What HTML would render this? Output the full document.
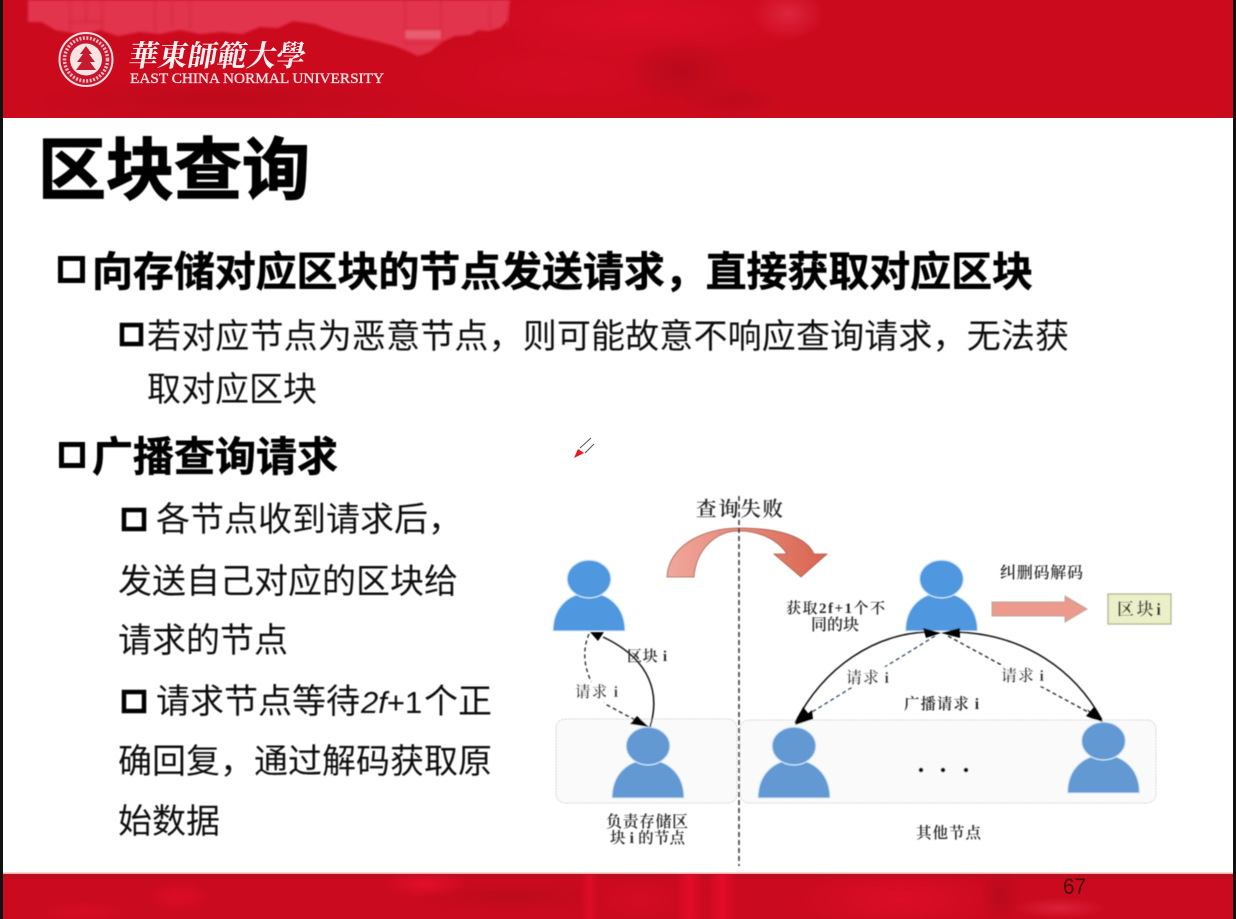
<!DOCTYPE html>
<html lang="zh"><head><meta charset="utf-8"><title>区块查询</title>
<style>html,body{margin:0;padding:0;background:#fff}svg{display:block}
.s{font-family:"Liberation Sans","Noto Sans CJK SC",sans-serif;fill:#111}
.b{font-weight:700;fill:#000;stroke:#000;stroke-width:.5}
.d{font-family:"Liberation Serif","Noto Serif CJK SC",serif;fill:#2a2a2a;font-weight:600}
</style></head><body>
<svg width="1236" height="919" viewBox="0 0 1236 919" xmlns="http://www.w3.org/2000/svg">
<defs>
<filter id="bl2" x="-20%" y="-20%" width="140%" height="140%"><feGaussianBlur stdDeviation="1.2"/></filter>
<filter id="soft" x="-5%" y="-5%" width="110%" height="110%"><feGaussianBlur stdDeviation=".45"/></filter>
<radialGradient id="dk"><stop offset="0" stop-color="#b40a1b"/><stop offset="1" stop-color="#b40a1b" stop-opacity="0"/></radialGradient>
<radialGradient id="br"><stop offset="0" stop-color="#e20e2b"/><stop offset="1" stop-color="#e20e2b" stop-opacity="0"/></radialGradient>
<radialGradient id="pk"><stop offset="0" stop-color="#e2304a"/><stop offset="1" stop-color="#e2304a" stop-opacity="0"/></radialGradient>
<linearGradient id="ca" x1="0" x2="1"><stop offset="0" stop-color="#f0a89c"/><stop offset="1" stop-color="#d9644f"/></linearGradient>
<linearGradient id="vs" x1="0" x2="1"><stop offset="0" stop-color="#e20c28" stop-opacity="0"/><stop offset=".5" stop-color="#e20c28"/><stop offset="1" stop-color="#e20c28" stop-opacity="0"/></linearGradient>
<clipPath id="hc"><rect x="0" y="0" width="1236" height="118"/></clipPath>
<clipPath id="fc"><rect x="0" y="874" width="1236" height="45"/></clipPath>
<g id="p"><path d="M-36 52C-36 28-20 14 0 14C20 14 36 28 36 52Z" stroke="#cfe6fa" stroke-width="1"/><ellipse cx="0" cy="0" rx="22" ry="19" stroke="#d5e9fb" stroke-width="1.2"/></g>
</defs>
<rect width="1236" height="919" fill="#fff"/>
<!-- header -->
<g clip-path="url(#hc)">
<rect width="1236" height="118" fill="#cc0a1e"/>
<ellipse cx="640" cy="18" rx="190" ry="42" fill="url(#br)" opacity=".7"/>
<ellipse cx="560" cy="75" rx="150" ry="42" fill="url(#br)" opacity=".35"/>
<ellipse cx="680" cy="72" rx="55" ry="34" fill="url(#dk)" opacity=".8"/>
<ellipse cx="732" cy="100" rx="50" ry="18" fill="url(#dk)" opacity=".6"/>
<ellipse cx="788" cy="14" rx="36" ry="26" fill="url(#pk)" opacity=".7"/>
<ellipse cx="220" cy="100" rx="220" ry="24" fill="url(#dk)" opacity=".6"/>
<path d="M28 0H510L508 20 500 28 488 31 478 30 470 35 455 36 442 42 430 52 418 56 405 50 395 46 380 42 362 38 345 34 332 30 315 24 293 21 278 28 260 27 242 34 222 32 200 34 180 30 160 34 140 32 118 36 100 30 84 34 66 32 55 30 42 22 28 22Z" fill="#e2364d" filter="url(#bl2)"/>
<g fill="none" stroke="#cd2138" stroke-width="1.5" opacity=".7" filter="url(#bl2)">
<path d="M70 0V31M102 0V31M70 22H102M86 0V22"/>
<path d="M155 0V30M190 0V30M172 0V26"/>
<path d="M405 0V42M441 0V42M405 30H441M405 44H441"/>
<path d="M490 5V28M508 5V28"/>
</g>
<rect x="405" y="30" width="36" height="9" fill="#e85c70" filter="url(#bl2)"/>
</g>
<!-- logo -->
<circle cx="86" cy="59.500" r="26.500" fill="#c8142c" stroke="#f8dede" stroke-width="2"/>
<circle cx="86" cy="59.500" r="16" fill="#f9e4e4"/>
<path d="M86 46L92 54H89L95 62H90L96 70H76L82 62H77L83 54H80Z" fill="#c31c30"/>
<circle cx="86" cy="59.500" r="21.500" fill="none" stroke="#f3bcc0" stroke-width="3.500" stroke-dasharray="2 1.500"/>
<text x="128" y="66" font-size="29.500" font-weight="700" transform="skewX(-10) translate(11 0)" style="font-family:'Noto Serif CJK SC',serif;fill:#fdf2f2">華東師範大學</text>
<text x="130" y="83" font-size="14.800" textLength="254" lengthAdjust="spacingAndGlyphs" style="font-family:'Liberation Serif',serif;fill:#f9e2e2;stroke:#f9e2e2;stroke-width:.35">EAST CHINA NORMAL UNIVERSITY</text>
<!-- footer -->
<g clip-path="url(#fc)">
<rect y="873" width="1236" height="46" fill="#ca0a1e"/>
<rect x="0" y="874" width="1236" height="4" fill="#b70b1d" filter="url(#bl2)"/>
<ellipse cx="178" cy="897" rx="34" ry="16" fill="url(#br)" opacity=".7"/>
<ellipse cx="85" cy="912" rx="50" ry="12" fill="url(#br)" opacity=".5"/>
<ellipse cx="425" cy="884" rx="45" ry="14" fill="url(#br)"/>
<ellipse cx="510" cy="897" rx="95" ry="14" fill="url(#dk)" opacity=".6"/>
<rect x="580" y="874" width="19" height="45" fill="url(#vs)" opacity=".8"/>
<ellipse cx="640" cy="900" rx="50" ry="24" fill="url(#br)" opacity=".4"/>
<rect x="676" y="874" width="27" height="45" fill="url(#vs)"/>
<rect x="707" y="874" width="30" height="45" fill="url(#vs)"/>
<ellipse cx="900" cy="900" rx="110" ry="34" fill="url(#br)" opacity=".75"/>
<ellipse cx="1000" cy="895" rx="20" ry="28" fill="url(#dk)" opacity=".8"/>
<ellipse cx="1060" cy="908" rx="48" ry="11" fill="url(#pk)" opacity=".6"/>
</g>
<rect y="872.500" width="1236" height="1.500" fill="#ecb0b6"/>
<rect x="0" y="0" width="3" height="919" fill="#111"/>
<rect x="1233" y="0" width="3" height="919" fill="#111"/>
<text x="1063" y="894" font-size="22" textLength="23" lengthAdjust="spacingAndGlyphs" style="font-family:'Liberation Sans',sans-serif;fill:#4a0a10">67</text>

<g filter="url(#soft)">
<text x="38" y="194" font-size="68" class="s b" style="fill:#000;stroke:#000;stroke-width:1.2">区块查询</text>
<rect x="60.500" y="258.500" width="22" height="22" fill="none" stroke="#000" stroke-width="5"/>
<text x="92" y="286" font-size="41" class="s b" textLength="941">向存储对应区块的节点发送请求，直接获取对应区块</text>
<rect x="122" y="325" width="19" height="19" fill="none" stroke="#000" stroke-width="4.500"/>
<text x="147" y="348" font-size="34" class="s" textLength="922">若对应节点为恶意节点，则可能故意不响应查询请求，无法获</text>
<text x="147" y="401" font-size="34" class="s">取对应区块</text>
<rect x="61.500" y="444.500" width="21" height="21" fill="none" stroke="#000" stroke-width="5"/>
<text x="92" y="471" font-size="41" class="s b">广播查询请求</text>
<rect x="124" y="510" width="20" height="19" fill="none" stroke="#000" stroke-width="4.500"/>
<text x="156" y="531" font-size="34" class="s">各节点收到请求后，</text>
<text x="118" y="593" font-size="34" class="s">发送自己对应的区块给</text>
<text x="118" y="652" font-size="34" class="s">请求的节点</text>
<rect x="124" y="692" width="20" height="19" fill="none" stroke="#000" stroke-width="4.500"/>
<text x="156" y="713" font-size="34" class="s">请求节点等待<tspan font-size="31" font-style="italic" dx="1">2f</tspan><tspan font-size="31">+1</tspan></text>
<text x="424" y="713" font-size="34" class="s">个正</text>
<text x="118" y="773" font-size="34" class="s">确回复，通过解码获取原</text>
<text x="118" y="833" font-size="34" class="s">始数据</text>
</g>

<!-- pen cursor -->
<path d="M574 458L578 449L584 453Z" fill="#f01818"/>
<path d="M580 448L591 438M585 453L594 444" stroke="#555" stroke-width="1" fill="none"/>

<!-- diagram -->
<g filter="url(#soft)">
<rect x="556" y="719" width="181" height="84" rx="9" fill="#fafafa" stroke="#d4d4d4" stroke-width="1" stroke-dasharray="2 1"/>
<rect x="740" y="720" width="416" height="83" rx="9" fill="#fafafa" stroke="#d4d4d4" stroke-width="1" stroke-dasharray="2 1"/>

<path d="M667 577C668 548 700 528 739 528C778 528 806 536 814 554H827L801 577L774 554H787C778 540 760 531 739 531C715 531 696 550 694 577Z" fill="url(#ca)" stroke="#a5584c" stroke-width=".8"/>
<path d="M739 496V866" stroke="#333" stroke-width="1.500" stroke-dasharray="5 3" fill="none"/>

<use href="#p" x="589" y="579" fill="#4f97de"/>
<use href="#p" x="941.500" y="579" fill="#4f97de"/>
<use href="#p" x="648" y="746" fill="#6399d2"/>
<use href="#p" x="794" y="746" fill="#6399d2"/>
<use href="#p" x="1103.500" y="741" fill="#6399d2"/>

<!-- connectors -->
<path d="M650 727C660 695 652 660 603 637" fill="none" stroke="#111" stroke-width="1.500"/>
<path d="M590 632L604 632L598 641Z" fill="#000"/>
<path d="M589 634C580 655 585 680 607 705L637 721" fill="none" stroke="#222" stroke-width="1.300" stroke-dasharray="4 3"/>
<path d="M649 727L630 724L637 716Z" fill="#000"/>

<path d="M795 723C825 665 875 635 925 632" fill="none" stroke="#111" stroke-width="1.500"/>
<path d="M958 632C1025 635 1075 670 1102 720" fill="none" stroke="#111" stroke-width="1.500"/>
<path d="M935 636L812 712" fill="none" stroke="#2f4a68" stroke-width="1.300" stroke-dasharray="4 3"/>
<path d="M948 636L1088 712" fill="none" stroke="#222" stroke-width="1.300" stroke-dasharray="4 3"/>
<path d="M795 725L812 710L813 719Z" fill="#000"/><path d="M795 725L803 707L813 719Z" fill="#000"/>
<path d="M1103 722L1087 709L1093 719L1085 716Z" fill="#000"/><path d="M1103 722L1086 716L1094 707Z" fill="#000"/>
<path d="M941 633L923 628L926 638Z" fill="#000"/>
<path d="M941 633L960 628L960 638Z" fill="#000"/>

<!-- block arrow & box -->
<path d="M992 602H1065V596L1087 609L1065 622V616H992Z" fill="#eb9a8c" stroke="#b9a5a0" stroke-width="1"/>
<rect x="1108" y="594" width="63" height="30" fill="#ecf0c9" stroke="#b5b996" stroke-width="1.400"/>

<rect x="573" y="682" width="47" height="20" fill="#fff"/>
<rect x="844" y="667" width="47" height="20" fill="#fff"/>
<rect x="999" y="666" width="47" height="20" fill="#fff"/>

<text x="696" y="516" font-size="20.500" class="d" textLength="87">查询失败</text>
<text x="627" y="661" font-size="15" class="d" textLength="40">区块 i</text>
<text x="575" y="697" font-size="15.500" class="d" textLength="43">请求 i</text>
<text x="786" y="613" font-size="15" class="d" textLength="99">获取2f+1个不</text>
<text x="811" y="630" font-size="16" class="d" textLength="48">同的块</text>
<text x="606" y="827" font-size="16" class="d" textLength="82">负责存储区</text>
<text x="610" y="843" font-size="15.500" class="d" textLength="75">块 i 的节点</text>
<text x="1000" y="578" font-size="16" class="d" textLength="83">纠删码解码</text>
<text x="1117" y="615" font-size="17" class="d" textLength="44">区块i</text>
<text x="846" y="683" font-size="16" class="d" textLength="43">请求 i</text>
<text x="1001" y="681" font-size="16" class="d" textLength="43">请求 i</text>
<text x="904" y="709" font-size="15.500" class="d" textLength="75">广播请求 i</text>
<text x="916" y="838" font-size="15.500" class="d" textLength="65">其他节点</text>
<circle cx="921" cy="770" r="2.300" fill="#111"/><circle cx="943" cy="770" r="2.300" fill="#111"/><circle cx="966" cy="770" r="2.300" fill="#111"/>
</g>
</svg>
</body></html>
